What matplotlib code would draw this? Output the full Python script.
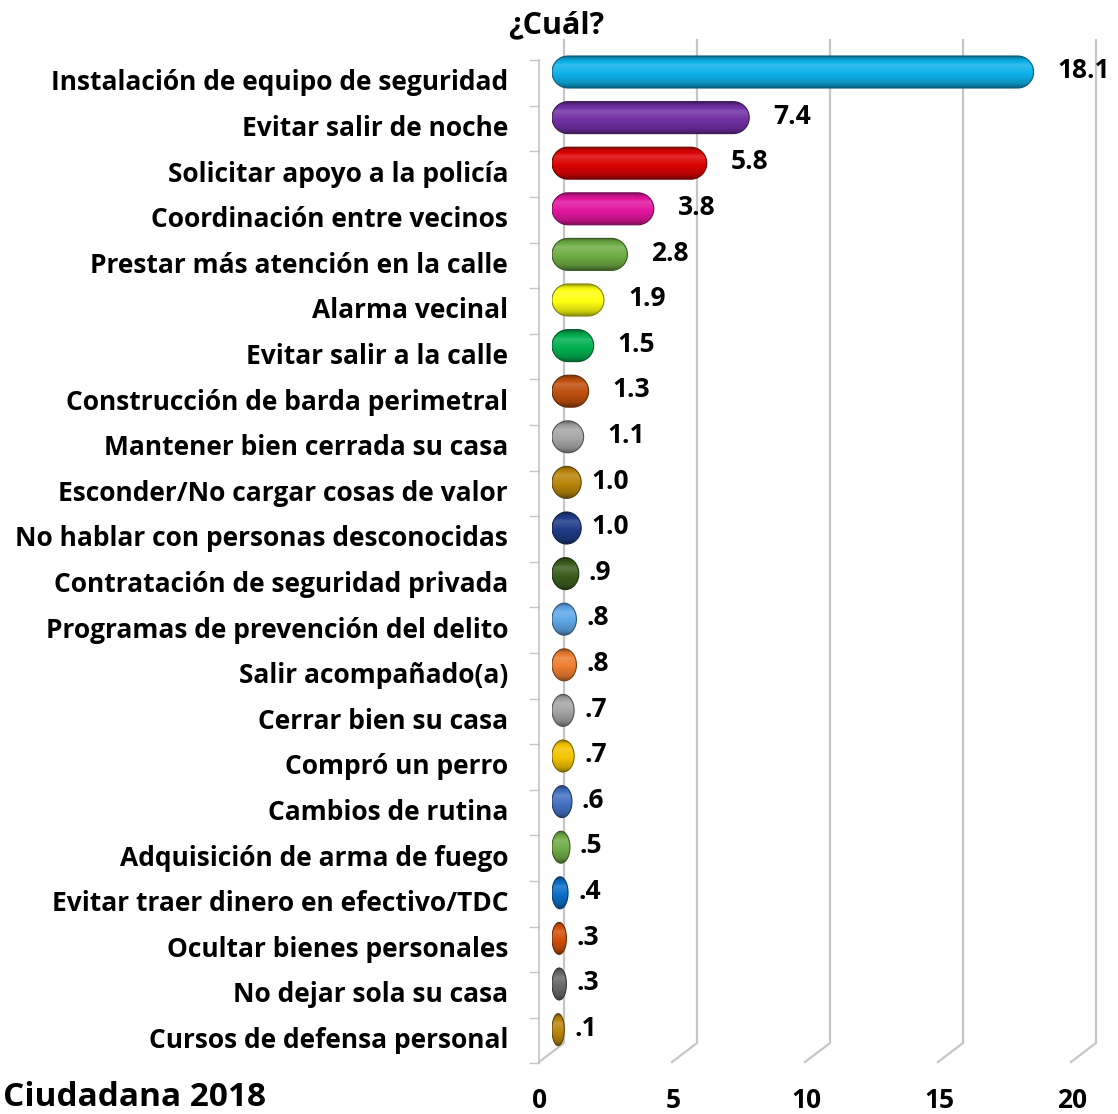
import numpy as np
import matplotlib.pyplot as plt
from matplotlib.patches import Polygon
from matplotlib.colors import to_rgb

# data
categories = [
    "Instalación de equipo de seguridad",
    "Evitar salir de noche",
    "Solicitar apoyo a la policía",
    "Coordinación entre vecinos",
    "Prestar más atención en la calle",
    "Alarma vecinal",
    "Evitar salir a la calle",
    "Construcción de barda perimetral",
    "Mantener bien cerrada su casa",
    "Esconder/No cargar cosas de valor",
    "No hablar con personas desconocidas",
    "Contratación de seguridad privada",
    "Programas de prevención del delito",
    "Salir acompañado(a)",
    "Cerrar bien su casa",
    "Compró un perro",
    "Cambios de rutina",
    "Adquisición de arma de fuego",
    "Evitar traer dinero en efectivo/TDC",
    "Ocultar bienes personales",
    "No dejar sola su casa",
    "Cursos de defensa personal",
]
values = [18.1, 7.4, 5.8, 3.8, 2.8, 1.9, 1.5, 1.3, 1.1, 1.0, 1.0,
          0.9, 0.8, 0.8, 0.7, 0.7, 0.6, 0.5, 0.4, 0.3, 0.3, 0.1]
colors = ["#0EB2EA", "#7330A6", "#DD0303", "#E3169F", "#6FAE45", "#FFFF10",
          "#00B050", "#C0500E", "#A6A6A6", "#B8860B", "#1F3C88", "#3A5F1E",
          "#5FA8E8", "#EE7D31", "#A5A5A5", "#F5C400", "#4472C4", "#70AD47",
          "#0A6FC8", "#D2500A", "#6A6A6A", "#B8860B"]
xticks = [0, 5, 10, 15, 20]

plt.rcParams['font.family'] = ['Open Sans', 'DejaVu Sans']
plt.rcParams['font.weight'] = 'bold'

W, H = 1118, 1114
fig = plt.figure(figsize=(W / 100, H / 100), dpi=100)

# pixel geometry of the plot box
x0_px, ppu = 552, 26.6          # x=0 pixel, pixels per unit
row0_px, row_px = 72, 45.6      # first bar centre, row spacing
n = len(categories)
top_px = row0_px - row_px / 2
bot_px = row0_px + row_px * (n - 0.5)
ax = fig.add_axes([x0_px / W, 1 - bot_px / H, 20 * ppu / W, (bot_px - top_px) / H])


def yd(px):
    return (px - row0_px) / row_px


def xd(px):
    return px / ppu


# 3D style walls / gridlines
grid_c = "#C6C6C6"
for t in xticks:
    xb = t + xd(12)
    xf = t - xd(13)
    ax.plot([xb, xb, xf], [yd(40), yd(1043), yd(1062)], color=grid_c, lw=1.6,
            clip_on=False, zorder=0)
ax.plot([-xd(13), -xd(13)], [yd(60), yd(1063)], color=grid_c, lw=1.2, clip_on=False, zorder=0)
for i in range(-1, n):
    yb = i + 0.5 + yd(83) - yd(72)
    ax.plot([-xd(22), -xd(13)], [yb, yb], color=grid_c, lw=1.0, clip_on=False, zorder=0)

# cylinder-like pill bars
bar_h = 32 / row_px
tt = np.linspace(0, 1, 80)
shade = np.interp(tt, [0, 0.1, 0.28, 0.55, 0.85, 1], [0.6, 0.9, 1.1, 1.0, 0.82, 0.55])
ang = np.linspace(-np.pi / 2, np.pi / 2, 40)
for i, (v, c) in enumerate(zip(values, colors)):
    w_px = np.hypot(v * ppu, 12)
    w = xd(w_px)
    rx = xd(min(16, w_px / 2))
    ry = bar_h / 2
    right = np.column_stack([w - rx + rx * np.cos(ang), i + ry * np.sin(ang)])
    left = np.column_stack([rx - rx * np.cos(ang), i - ry * np.sin(ang)])
    base = np.array(to_rgb(c))
    patch = Polygon(np.vstack([right, left]), closed=True, facecolor='none',
                    edgecolor=base * 0.5, lw=0.8, zorder=3)
    ax.add_patch(patch)
    rows = []
    for s in shade:
        if s > 1:
            rows.append(base + (1 - base) * (s - 1) * 1.6)
        else:
            rows.append(base * s)
    grad = np.clip(np.array(rows), 0, 1)[:, None, :]
    im = ax.imshow(grad, extent=(0, w, i + ry, i - ry), origin='upper',
                   aspect='auto', interpolation='bilinear', zorder=2)
    im.set_clip_path(patch)

    gap = 24 if v > 1.0 else 10
    lab = f"{v:.1f}"
    if lab.startswith("0"):
        lab = lab[1:]
    ax.annotate(lab, (w, i), xytext=(gap * 0.72, 1), textcoords='offset points',
                ha='left', va='center', fontsize=19, fontweight='bold', annotation_clip=False)

ax.set_xlim(0, 20)
ax.set_ylim(n - 0.5, -0.5)
ax.axis('off')

# category labels
for i, cat in enumerate(categories):
    ax.text(-xd(44), i + yd(83) - yd(72), cat, ha='right', va='center',
            fontsize=19, fontweight='bold', clip_on=False)

# x tick labels on the front plane
for t in xticks:
    ax.text(t - xd(12), yd(1100), str(t), ha='center', va='center',
            fontsize=19, fontweight='bold', clip_on=False)

fig.text(556 / W, 1 - 25 / H, "¿Cuál?", ha='center', va='center', fontsize=22, fontweight='bold')
fig.text(3 / W, 1 - 1098 / H, "Ciudadana 2018", ha='left', va='center',
         fontsize=24, fontweight='bold')

fig.savefig("out.png", dpi=100)
